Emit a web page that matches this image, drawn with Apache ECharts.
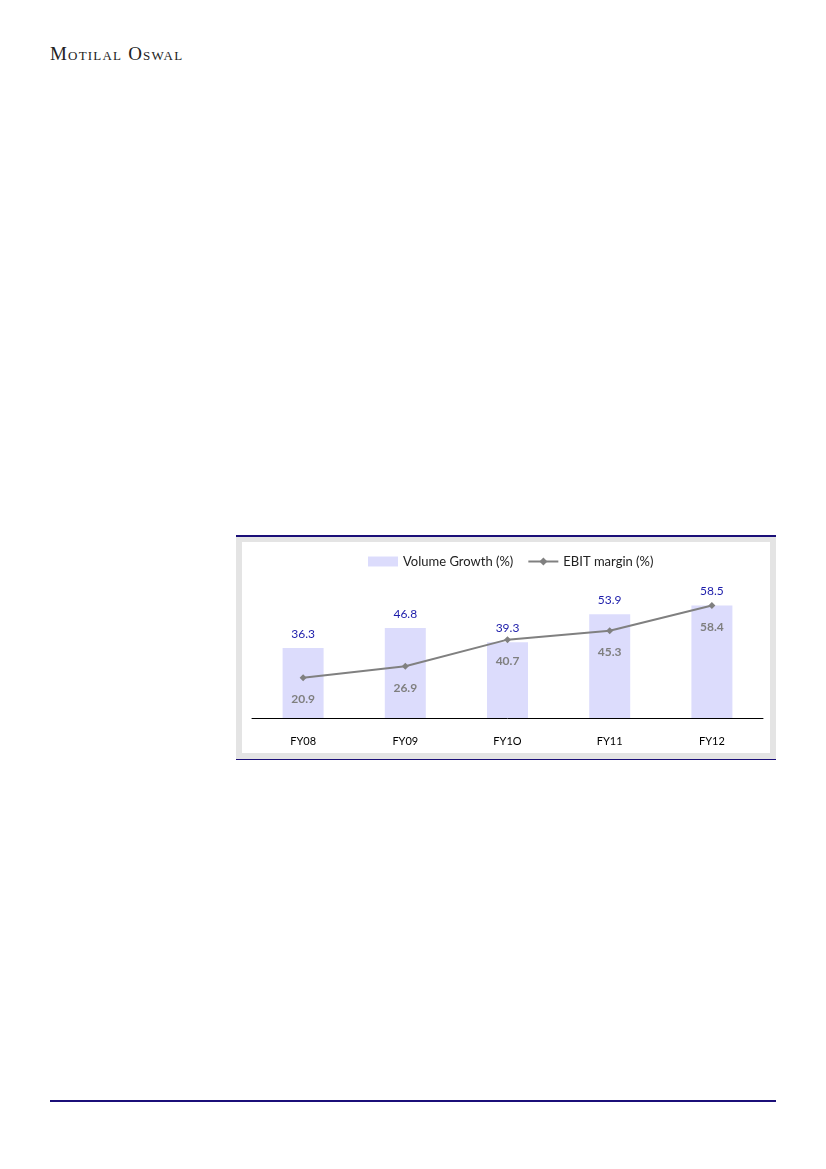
<!DOCTYPE html>
<html>
<head>
<meta charset="utf-8">
<script src="https://cdn.jsdelivr.net/npm/echarts@6/dist/echarts.min.js"></script>
<style>
html,body{margin:0;padding:0;background:#fff;}
#page{position:relative;width:826px;height:1169px;}
#hdr{position:absolute;left:50px;top:43px;font-family:"Liberation Serif","DejaVu Serif",serif;font-variant:small-caps;font-size:19px;color:#222;letter-spacing:1.2px;}
#topline{position:absolute;left:236px;top:535px;width:540px;height:2px;background:#1b0f78;}
#frame{position:absolute;left:236px;top:537px;width:540px;height:222px;background:#e4e4e4;}
#inner{position:absolute;left:242px;top:542px;width:528px;height:211px;background:#fff;}
#botline{position:absolute;left:236px;top:759px;width:540px;height:1px;background:#1b0f78;}
#footline{position:absolute;left:50px;top:1100px;width:726px;height:2px;background:#1b0f78;}
#chart{position:absolute;left:0;top:0;width:826px;height:1169px;}
</style>
</head>
<body>
<div id="page">
  <div id="hdr">Motilal Oswal</div>
  <div id="topline"></div>
  <div id="frame"></div>
  <div id="inner"></div>
  <div id="botline"></div>
  <div id="footline"></div>
  <div id="chart"></div>
</div>
<script>
var categories = ["FY08", "FY09", "FY1O", "FY11", "FY12"];
var volumeGrowth = [36.3, 46.8, 39.3, 53.9, 58.5];
var ebitMargin = [20.9, 26.9, 40.7, 45.3, 58.4];

var chart = echarts.init(document.getElementById('chart'), null, {renderer: 'canvas'});
var font = 'Lato, "Open Sans", sans-serif';
chart.setOption({
  backgroundColor: 'transparent',
  animation: false,
  legend: {
    top: 550,
    left: 363,
    itemGap: 14,
    itemWidth: 30,
    itemHeight: 10,
    textStyle: {fontFamily: font, fontSize: 13, color: '#222'},
    data: [
      {name: 'Volume Growth (%)', icon: 'rect'},
      {name: 'EBIT margin (%)'}
    ]
  },
  grid: {left: 252, right: 63, top: 564, height: 154, containLabel: false},
  xAxis: {
    type: 'category',
    data: categories,
    boundaryGap: true,
    axisLine: {lineStyle: {color: '#000', width: 1}},
    axisTick: {show: false},
    axisLabel: {margin: 18, fontFamily: font, fontSize: 11, color: '#000'}
  },
  yAxis: {
    type: 'value', min: 0, max: 80, show: false,
    splitLine: {show: false}
  },
  series: [
    {
      name: 'Volume Growth (%)',
      type: 'bar',
      data: volumeGrowth,
      barWidth: 41,
      itemStyle: {color: '#dcdcfc'},
      label: {show: true, position: 'top', distance: 8, fontFamily: font, fontSize: 12, color: '#1c1caa'}
    },
    {
      name: 'EBIT margin (%)',
      type: 'line',
      data: ebitMargin,
      symbol: 'diamond',
      symbolSize: 7,
      lineStyle: {color: '#808080', width: 2},
      itemStyle: {color: '#808080'},
      label: {show: true, position: 'bottom', distance: 12, fontFamily: font, fontSize: 12, fontWeight: 'bold', color: '#7f7f7f'}
    }
  ]
});
</script>
</body>
</html>
